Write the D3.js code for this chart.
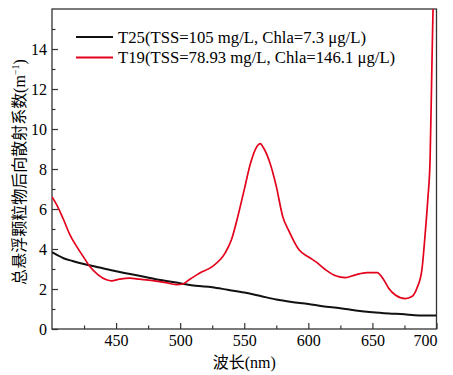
<!DOCTYPE html>
<html>
<head>
<meta charset="utf-8">
<script src="https://cdn.jsdelivr.net/npm/d3@7"></script>
<style>
  body { margin: 0; background: #fff; }
</style>
</head>
<body>
<svg id="chart"></svg>
<script>
// wavelength (nm) and backscattering (m^-1)
const t25Wave = [400, 409, 416, 424, 436, 450, 468, 481, 500, 512, 525, 537, 550, 562, 575, 587, 600, 611, 625, 637, 650, 663, 675, 683, 690, 700];
const t25Vals = [3.84, 3.54, 3.40, 3.26, 3.09, 2.89, 2.66, 2.49, 2.29, 2.16, 2.09, 1.96, 1.82, 1.66, 1.47, 1.35, 1.25, 1.14, 1.04, 0.93, 0.84, 0.78, 0.74, 0.69, 0.68, 0.68];

const t19Wave = [400, 403.6, 408.8, 414, 419.2, 424.3, 429.5, 436, 442.5, 446.4, 452.8, 460.6, 468.4, 478.7, 489, 497, 502, 507, 515, 525, 535, 540, 545, 550, 555, 560, 562.5, 565, 570, 575, 580, 585, 592.7, 600.5, 605.7, 613.5, 621.3, 629, 636.8, 645.8, 653.6, 658.8, 662.7, 667.9, 675.7, 680.8, 684.7, 688.6, 691.2, 693.2, 695, 696.4, 697.3, 698];
const t19Vals = [6.60, 6.22, 5.50, 4.71, 4.13, 3.63, 3.12, 2.71, 2.46, 2.41, 2.49, 2.54, 2.49, 2.42, 2.32, 2.22, 2.25, 2.46, 2.79, 3.12, 3.79, 4.46, 5.63, 6.97, 8.31, 9.14, 9.27, 9.06, 8.31, 7.13, 5.63, 4.88, 3.96, 3.59, 3.37, 2.96, 2.66, 2.57, 2.71, 2.82, 2.82, 2.46, 2.04, 1.70, 1.52, 1.62, 2.04, 2.96, 4.79, 6.47, 8.5, 13.1, 16.0, 17.5];

const seriesNames = ['T25(TSS=105 mg/L, Chla=7.3 μg/L)', 'T19(TSS=78.93 mg/L, Chla=146.1 μg/L)'];
const seriesColors = ['#111111', '#e3001b'];

const xTicks = [450, 500, 550, 600, 650, 700];
const xMinor = [425, 475, 525, 575, 625, 675];
const yTicks = [0, 2, 4, 6, 8, 10, 12, 14];
const yMinor = [1, 3, 5, 7, 9, 11, 13, 15];

const serif = '"Liberation Serif", "Times New Roman", "DejaVu Serif", serif';
const cjk = '"Noto Sans CJK SC", sans-serif';

const available = { width: 453, height: 375 };
const margins = { top: 9, right: 16.5, bottom: 46, left: 52 };
const width = available.width - margins.left - margins.right;
const height = available.height - margins.top - margins.bottom;

const xScale = d3.scaleLinear().domain([400, 700]).range([0, width]);
const yScale = d3.scaleLinear().domain([0, 16]).range([height, 0]);

const svg = d3.select('#chart')
  .attr('width', available.width)
  .attr('height', available.height);

const chartG = svg.append('g')
  .attr('transform', `translate(${margins.left}, ${margins.top})`);

chartG.append('clipPath').attr('id', 'plot-clip')
  .append('rect').attr('width', width).attr('height', height);

// minor ticks (inside)
chartG.append('g')
  .attr('transform', `translate(0, ${height})`)
  .call(d3.axisBottom(xScale).tickValues(xMinor).tickSizeInner(-3.5).tickSizeOuter(0).tickFormat(''))
  .call(g => g.select('.domain').remove());
chartG.append('g')
  .call(d3.axisLeft(yScale).tickValues(yMinor).tickSizeInner(-3.5).tickSizeOuter(0).tickFormat(''))
  .call(g => g.select('.domain').remove());

// major ticks + labels
const xAxisG = chartG.append('g')
  .attr('transform', `translate(0, ${height})`)
  .call(d3.axisBottom(xScale).tickValues(xTicks).tickSizeInner(-6).tickSizeOuter(0).tickPadding(6));
xAxisG.select('.domain').remove();
xAxisG.selectAll('text')
  .style('font-family', serif)
  .style('font-size', '16px')
  .attr('fill', '#000')
  .attr('text-anchor', d => d === 700 ? 'end' : 'middle')
  .attr('dx', d => d === 700 ? 0.5 : 0);

const yAxisG = chartG.append('g')
  .call(d3.axisLeft(yScale).tickValues(yTicks).tickSizeInner(-6).tickSizeOuter(0).tickPadding(5));
yAxisG.select('.domain').remove();
yAxisG.selectAll('text')
  .style('font-family', serif)
  .style('font-size', '16px')
  .attr('fill', '#000');

chartG.selectAll('.tick line').attr('stroke', '#333').attr('stroke-width', 1.2);

// frame
chartG.append('rect')
  .attr('width', width).attr('height', height)
  .attr('fill', 'none').attr('stroke', '#333').attr('stroke-width', 1.3);

const line = d3.line()
  .x(d => xScale(d[0]))
  .y(d => yScale(d[1]))
  .curve(d3.curveMonotoneX);

const series = [
  d3.zip(t25Wave, t25Vals),
  d3.zip(t19Wave, t19Vals)
];

chartG.append('g').attr('clip-path', 'url(#plot-clip)')
  .selectAll('path')
  .data(series)
  .join('path')
  .attr('d', line)
  .attr('fill', 'none')
  .attr('stroke', (d, i) => seriesColors[i])
  .attr('stroke-width', (d, i) => i === 0 ? 2 : 1.7)
  .attr('stroke-linejoin', 'round');

// legend
const legendG = chartG.append('g').attr('transform', 'translate(24, 28)');
seriesNames.forEach((name, i) => {
  const row = legendG.append('g').attr('transform', `translate(0, ${i * 20.5})`);
  row.append('line')
    .attr('x1', 0).attr('x2', 37)
    .attr('stroke', seriesColors[i]).attr('stroke-width', 2);
  row.append('text')
    .attr('x', 42).attr('y', 5.5)
    .style('font-family', serif)
    .style('font-size', '16.7px')
    .attr('fill', '#000')
    .text(name);
});

// axis titles
svg.append('text')
  .attr('x', margins.left + xScale(550))
  .attr('y', 368)
  .attr('text-anchor', 'middle')
  .style('font-family', serif)
  .style('font-size', '16px')
  .attr('fill', '#000')
  .call(t => {
    t.append('tspan').style('font-family', cjk).text('波长');
    t.append('tspan').text('(nm)');
  });

svg.append('text')
  .attr('transform', `translate(25, 172) rotate(-90)`)
  .attr('text-anchor', 'middle')
  .style('font-family', serif)
  .style('font-size', '16px')
  .attr('fill', '#000')
  .call(t => {
    t.append('tspan').style('font-family', cjk).text('总悬浮颗粒物后向散射系数');
    t.append('tspan').text('(m');
    t.append('tspan').style('font-size', '10px').attr('dy', -6).text('−1');
    t.append('tspan').attr('dy', 6).text(')');
  });
</script>
</body>
</html>
